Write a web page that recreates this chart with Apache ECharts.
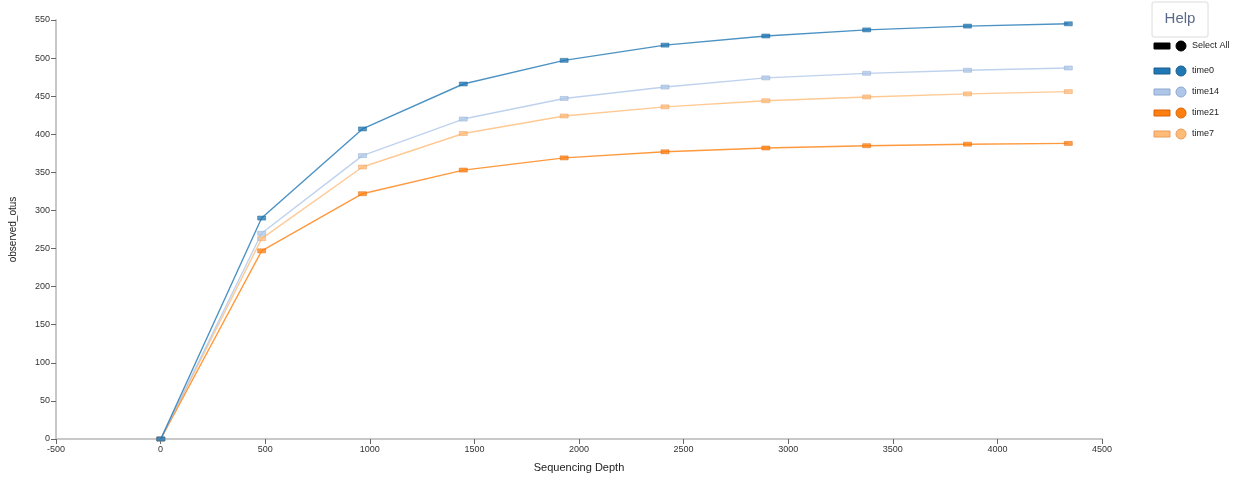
<!DOCTYPE html>
<html><head><meta charset="utf-8">
<script src="https://cdn.jsdelivr.net/npm/echarts@6/dist/echarts.min.js"></script>
<style>html,body{margin:0;padding:0;background:#fff}#c{width:1250px;height:479px}</style>
</head><body><div id="c"></div>
<script>
const depths = [1, 483, 965, 1447, 1929, 2411, 2893, 3375, 3857, 4339];
const seriesNames = ['time0', 'time14', 'time21', 'time7'];
const time0  = [0, 290, 407, 466, 497, 517, 529, 537, 542, 545];
const time14 = [0, 270, 372, 420, 447, 462, 474, 480, 484, 487];
const time21 = [0, 247, 322, 353, 369, 377, 382, 385, 387, 388];
const time7  = [0, 263, 357, 401, 424, 436, 444, 449, 453, 456];
const colors = ['#1f77b4', '#aec7e8', '#ff7f0e', '#ffbb78'];
const strokes = ['#1a5f91', '#8fa9cf', '#d9650a', '#e89d5c'];
const values = [time0, time14, time21, time7];

const chart = echarts.init(document.getElementById('c'), null, {renderer: 'canvas'});
const font = 'Liberation Sans, Arial, sans-serif';

const series = seriesNames.map((n, i) => ({
  name: n, type: 'line',
  data: depths.map((d, j) => [d, values[i][j]]),
  symbol: 'rect', symbolSize: [8, 4],
  lineStyle: {color: colors[i], width: 1.4, opacity: 0.8},
  itemStyle: {color: colors[i], borderColor: strokes[i], borderWidth: 0.6, opacity: 0.75},
  z: 10 - i
}));

const graphic = [
  {type: 'rect', shape: {x: 1152, y: 2, width: 56, height: 35, r: 2},
   style: {fill: '#fff', stroke: '#dcdcdc', lineWidth: 1}},
  {type: 'text', x: 1180, y: 19, style: {text: 'Help', font: '15px ' + font, fill: '#5b6a8a', textAlign: 'center', textVerticalAlign: 'middle'}}
];
const legItems = [{name: 'Select All', fill: '#000', stroke: '#000', y: 46}]
  .concat(seriesNames.map((n, i) => ({name: n, fill: colors[i], stroke: strokes[i], y: 71 + i * 21})));
legItems.forEach(it => {
  graphic.push({type: 'rect', shape: {x: 1154, y: it.y - 3, width: 16, height: 6},
    style: {fill: it.fill, stroke: it.stroke, lineWidth: 1}});
  graphic.push({type: 'circle', shape: {cx: 1181, cy: it.y, r: 5},
    style: {fill: it.fill, stroke: it.stroke, lineWidth: 1}});
  graphic.push({type: 'text', x: 1192, y: it.y, style: {text: it.name, font: '9px ' + font, fill: '#222', textVerticalAlign: 'middle'}});
});

chart.setOption({
  animation: false,
  backgroundColor: '#fff',
  grid: {left: 56, right: 148, top: 20, bottom: 40, containLabel: false},
  xAxis: {
    type: 'value', min: -500, max: 4500, interval: 500,
    name: 'Sequencing Depth', nameLocation: 'middle', nameGap: 23,
    nameTextStyle: {fontFamily: font, fontSize: 11, color: '#222'},
    axisLine: {onZero: false, lineStyle: {color: '#c8c8c8', width: 2}},
    axisTick: {show: true, length: 5, lineStyle: {color: '#666'}},
    axisLabel: {fontFamily: font, fontSize: 9, color: '#333', margin: 6, formatter: v => String(v)},
    splitLine: {show: false}
  },
  yAxis: {
    type: 'value', min: 0, max: 550, interval: 50,
    name: 'observed_otus', nameLocation: 'middle', nameGap: 38, nameRotate: 90,
    nameTextStyle: {fontFamily: font, fontSize: 10, color: '#222'},
    axisLine: {show: true, onZero: false, lineStyle: {color: '#c8c8c8', width: 2}},
    axisTick: {show: true, length: 5, lineStyle: {color: '#666'}},
    axisLabel: {fontFamily: font, fontSize: 9, color: '#333', margin: 6, formatter: v => String(v)},
    splitLine: {show: false}
  },
  legend: {show: false},
  graphic: graphic,
  series: series
});
</script></body></html>
